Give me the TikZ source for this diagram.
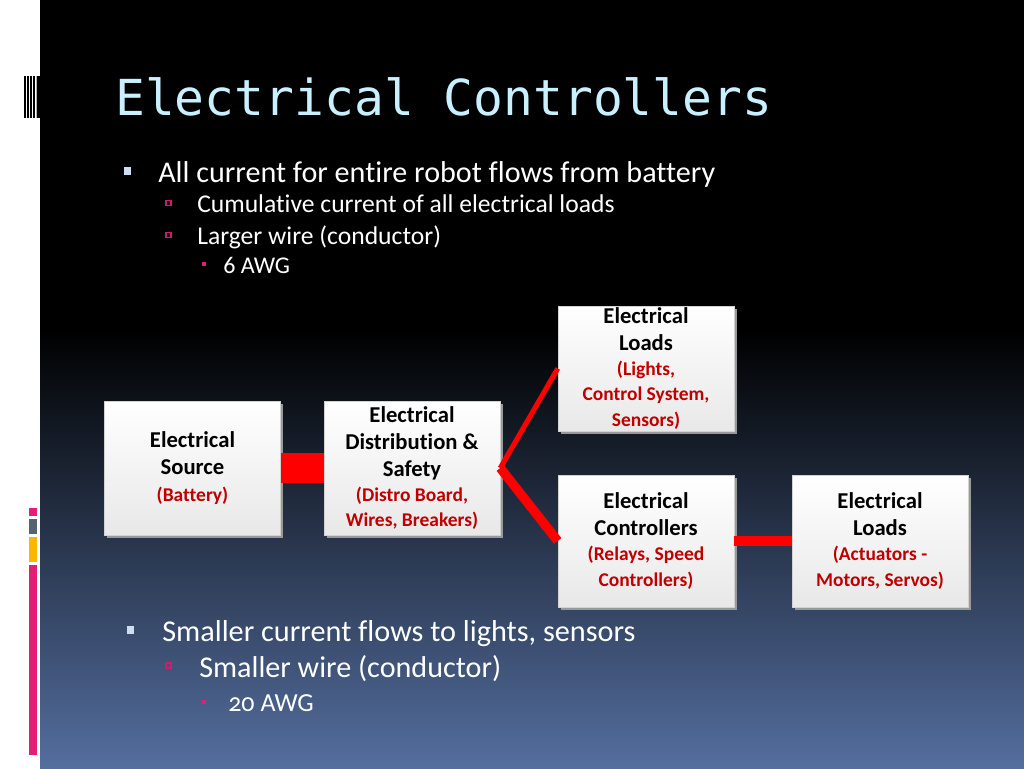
\documentclass[tikz,border=0pt]{standalone}
\usepackage{fontspec}
\setmainfont[Ligatures=NoCommon]{Carlito}
\newfontfamily\titlefont{DejaVu Sans Mono}
\newfontfamily\oldnum[Numbers=OldStyle,Ligatures=NoCommon]{Carlito}
\usetikzlibrary{shadows}
\definecolor{titlecyan}{RGB}{200,240,255}
\definecolor{boxred}{RGB}{192,0,0}
\definecolor{wirered}{RGB}{255,0,0}
\definecolor{bluebot}{RGB}{84,110,158}
\definecolor{barpink}{RGB}{228,30,118}
\definecolor{bargray}{RGB}{88,98,112}
\definecolor{barorange}{RGB}{252,182,0}
\definecolor{bulletblue}{RGB}{205,222,240}
\definecolor{bulletpink}{RGB}{205,30,105}
\tikzset{
  box/.style={rectangle, draw=gray!35, line width=0.4pt,
    top color=white, bottom color=gray!18,
    drop shadow={shadow xshift=2.2pt, shadow yshift=-2.2pt, fill=gray!80, opacity=1},
    align=center, inner sep=0pt, minimum width=132pt,
    font=\fontsize{17}{20.25}\selectfont\bfseries, text=black},
  txt/.style={anchor=base west, inner sep=0pt, text=white},
  wire/.style={draw=wirered, line cap=butt}
}
\newcommand{\rl}[1]{{\color{boxred}\fontsize{14.6}{18.8}\selectfont #1}}
\begin{document}
\begin{tikzpicture}[x=0.75pt,y=-0.75pt]
\useasboundingbox (0,0) rectangle (1024,768);
% background
\fill[white] (0,0) rectangle (40,768);
\fill[black] (40,0) rectangle (1024,330);
\shade[top color=black, bottom color=bluebot] (40,330) rectangle (1024,768);
% left decorations
\fill[black] (24,76) rectangle (25.5,118);
\fill[black] (27,76) rectangle (28.5,118);
\fill[black] (30,76) rectangle (31.5,118);
\fill[black] (33,76) rectangle (34.5,118);
\fill[gray!60] (35.5,76) rectangle (36.5,118);
\fill[black] (37,76) rectangle (40,118);
\fill[barpink] (28.5,508) rectangle (37,516);
\fill[bargray] (28.5,519) rectangle (37,534);
\fill[barorange] (28.5,537) rectangle (37,562);
\fill[barpink] (28.5,565) rectangle (37,755);
% title
\node[txt, text=titlecyan, font=\titlefont\fontsize{37.2}{40}\selectfont] (title) at (115,115) {Electrical Controllers};
% top bullets
\fill[bulletblue] (124,167) rectangle (131,175);
\node[txt, font=\fontsize{22.6}{26}\selectfont] (b1) at (158,182) {All current for entire robot flows from battery};
\draw[bulletpink, line width=0.9pt] (166,200.5) rectangle (171,205.5);
\node[txt, font=\fontsize{19.2}{22}\selectfont] (b2) at (197,212) {Cumulative current of all electrical loads};
\draw[bulletpink, line width=0.9pt] (166,232.5) rectangle (171,237.5);
\node[txt, font=\fontsize{19.2}{22}\selectfont] (b3) at (197,244) {Larger wire (conductor)};
\fill[barpink] (202,262) rectangle (206,266);
\node[txt, font=\fontsize{18}{21}\selectfont] (b4) at (223,273) {6 AWG};
% boxes
\node[box, minimum height=100.5pt] (src) at (192.5,468) {Electrical\\Source\\\rl{(Battery)}};
\node[box, minimum height=100.5pt] (dist) at (412,468) {Electrical\\Distribution \&\\Safety\\[-0.8pt]\rl{(Distro Board,}\\[-1.5pt]\rl{Wires, Breakers)}};
\node[box, minimum height=93.75pt] (loadsA) at (646,368.5) {Electrical\\Loads\\[-1.2pt]\rl{(Lights,}\\[-1.8pt]\rl{Control System,}\\[-0.8pt]\rl{Sensors)}};
\node[box, minimum height=99pt] (ctrl) at (646,541) {Electrical\\Controllers\\[-0.8pt]\rl{(Relays, Speed}\\[-0.8pt]\rl{Controllers)}};
\node[box, minimum height=99pt] (loadsB) at (880,541) {Electrical\\Loads\\[-0.8pt]\rl{(Actuators -}\\[-0.8pt]\rl{Motors, Servos)}};
% wires
\draw[wire, line width=22.5pt] (src.east) -- (dist.west);
\draw[wire, line width=3.8pt] (dist.east) -- (loadsA.west);
\draw[wire, line width=7pt] (dist.east) -- (ctrl.west);
\draw[wire, line width=7.5pt] (ctrl.east) -- (loadsB.west);
% bottom bullets
\fill[bulletblue] (127,626) rectangle (134,634);
\node[txt, font=\fontsize{22.7}{26}\selectfont] (c1) at (162,641) {Smaller current flows to lights, sensors};
\draw[bulletpink, line width=0.9pt] (166,663) rectangle (171,668);
\node[txt, font=\fontsize{22.6}{26}\selectfont] (c2) at (199,677) {Smaller wire (conductor)};
\fill[barpink] (202,700) rectangle (206,704);
\node[txt, font=\oldnum\fontsize{19.5}{22}\selectfont] (c3) at (228,711) {20 AWG};
\end{tikzpicture}
\end{document}
